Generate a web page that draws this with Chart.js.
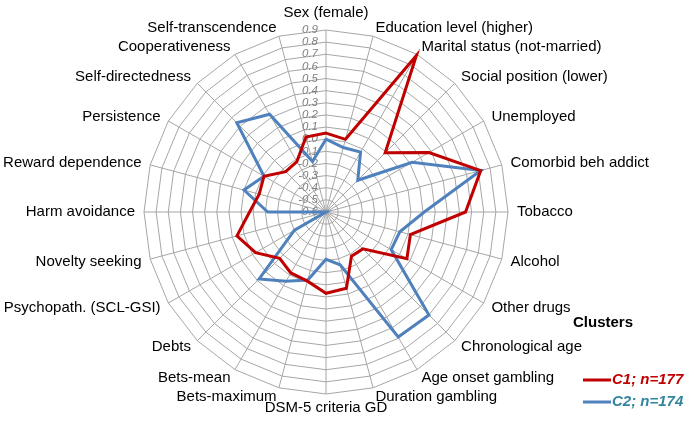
<!DOCTYPE html>
<html>
<head>
<meta charset="utf-8">
<script src="https://cdn.jsdelivr.net/npm/chart.js@4.4.1/dist/chart.umd.min.js"></script>
<style>
  html, body { margin: 0; padding: 0; background: #ffffff; }
  #wrap { width: 694px; height: 424px; }
</style>
</head>
<body>
<div id="wrap"><canvas id="c" width="694" height="424"></canvas></div>
<script>
const categories = [
  'Sex (female)', 'Education level (higher)', 'Marital status (not-married)',
  'Social position (lower)', 'Unemployed', 'Comorbid beh addict', 'Tobacco',
  'Alcohol', 'Other drugs', 'Chronological age', 'Age onset gambling',
  'Duration gambling', 'DSM-5 criteria GD', 'Bets-maximum', 'Bets-mean',
  'Debts', 'Psychopath. (SCL-GSI)', 'Novelty seeking', 'Harm avoidance',
  'Reward dependence', 'Persistence', 'Self-directedness', 'Cooperativeness',
  'Self-transcendence'
];
const c1Values = [0.05, 0.02, 0.89, 0.09, 0.38, 0.72, 0.55, 0.12, 0.17, -0.17, -0.18, 0.05,
                  0.07, -0.01, -0.02, -0.06, 0.07, 0.16, 0.03, -0.03, -0.01, -0.13, -0.12, 0.04];
const c2Values = [0.00, -0.05, -0.03, -0.23, 0.22, 0.72, 0.21, 0.03, 0.02, 0.60, 0.59, -0.15,
                  -0.21, -0.02, 0.06, 0.18, -0.30, -0.60, -0.12, 0.10, -0.01, 0.44, 0.33, -0.17];
const seriesNames = ['C1; n=177', 'C2; n=174'];
const legendTitle = 'Clusters';
const tickValues = [0.9, 0.8, 0.7, 0.6, 0.5, 0.4, 0.3, 0.2, 0.1, 0.0, -0.1, -0.2, -0.3, -0.4, -0.5, -0.6];
const tickLabels = ['0.9', '0.8', '0.7', '0.6', '0.5', '0.4', '0.3', '0.2', '0.1', '0.0',
                    '-0.1', '-0.2', '-0.3', '-0.4', '-0.5', '-0.6'];

const FONT = '"Liberation Sans", Arial, Helvetica, sans-serif';
const RED = '#c00000';
const BLUE = '#4f81bd';
const BLUE_TEXT = '#31859c';

const decorPlugin = {
  id: 'decor',
  beforeDatasetsDraw(chart) {
    const s = chart.scales.r;
    const ctx = chart.ctx;
    ctx.save();
    ctx.font = 'italic 11.5px ' + FONT;
    ctx.fillStyle = '#808080';
    ctx.textAlign = 'right';
    ctx.textBaseline = 'middle';
    tickValues.forEach((v, i) => {
      const d = s.getDistanceFromCenterForValue(v);
      ctx.fillText(tickLabels[i], s.xCenter - 8, s.yCenter - d);
    });
    ctx.restore();
  },
  afterDraw(chart) {
    const s = chart.scales.r;
    const ctx = chart.ctx;
    ctx.save();
    ctx.font = '15px ' + FONT;
    ctx.fillStyle = '#000000';
    ctx.textBaseline = 'middle';
    const n = categories.length;
    categories.forEach((lab, i) => {
      const deg = i * 360 / n;
      let d = 9;
      if (deg === 0) { ctx.textAlign = 'center'; d = 17; }
      else if (deg === 180) { ctx.textAlign = 'center'; d = 14; }
      else if (deg < 180) { ctx.textAlign = 'left'; }
      else { ctx.textAlign = 'right'; }
      const p = s.getPointPosition(i, s.drawingArea + d);
      ctx.fillText(lab, p.x, p.y);
    });

    // legend
    ctx.font = 'bold 15px ' + FONT;
    ctx.textAlign = 'left';
    ctx.fillStyle = '#000000';
    ctx.fillText(legendTitle, 573, 323);
    const cols = [RED, BLUE];
    const tcols = [RED, BLUE_TEXT];
    const ys = [380, 402];
    seriesNames.forEach((name, i) => {
      ctx.strokeStyle = cols[i];
      ctx.lineWidth = 3;
      ctx.beginPath();
      ctx.moveTo(583, ys[i]);
      ctx.lineTo(611, ys[i]);
      ctx.stroke();
      ctx.font = 'italic bold 15px ' + FONT;
      ctx.fillStyle = tcols[i];
      ctx.fillText(name, 612, ys[i]);
    });
    ctx.restore();
  }
};

new Chart(document.getElementById('c'), {
  type: 'radar',
  data: {
    labels: categories,
    datasets: [
      { label: seriesNames[0], data: c1Values, borderColor: RED, borderWidth: 3,
        pointRadius: 0, fill: false, tension: 0, borderJoinStyle: 'miter' },
      { label: seriesNames[1], data: c2Values, borderColor: BLUE, borderWidth: 3,
        pointRadius: 0, fill: false, tension: 0, borderJoinStyle: 'miter' }
    ]
  },
  options: {
    responsive: false,
    animation: false,
    devicePixelRatio: 1,
    layout: { padding: { left: 144, right: 186, top: 30, bottom: 30 } },
    plugins: { legend: { display: false }, tooltip: { enabled: false } },
    scales: {
      r: {
        min: -0.6,
        max: 0.9,
        ticks: { stepSize: 0.1, display: false },
        grid: { color: '#a6a6a6', lineWidth: 1 },
        angleLines: { color: '#a6a6a6', lineWidth: 1 },
        pointLabels: { display: false }
      }
    }
  },
  plugins: [decorPlugin]
});
</script>
</body>
</html>
